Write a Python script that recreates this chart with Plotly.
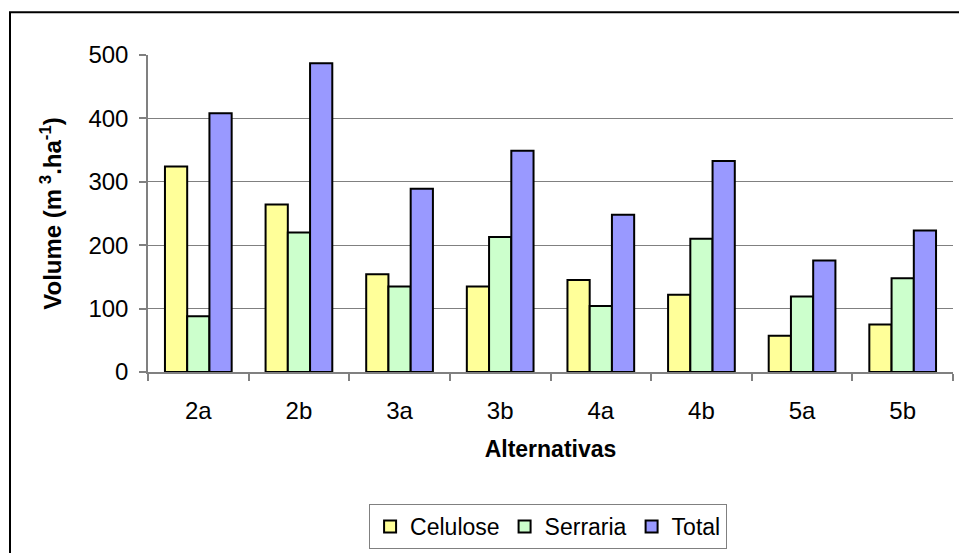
import plotly.graph_objects as go

categories = ["2a", "2b", "3a", "3b", "4a", "4b", "5a", "5b"]
celulose = [324, 264, 154, 135, 145, 122, 57, 75]
serraria = [88, 220, 135, 213, 104, 210, 119, 148]
total = [408, 487, 289, 349, 248, 333, 176, 223]
y_ticks = [0, 100, 200, 300, 400, 500]

FONT = "Liberation Sans, Arial, sans-serif"

fig = go.Figure()
for name, vals, color in [("Celulose", celulose, "#FFFF99"),
                          ("Serraria", serraria, "#CCFFCC"),
                          ("Total", total, "#9999FF")]:
    fig.add_trace(go.Bar(x=categories, y=vals, name=name,
                         marker=dict(color=color, line=dict(color="black", width=2))))

W, H = 959, 553
L, T = 148, 55
R = W - 953
B = H - 373
pw, ph = W - L - R, H - T - B

def px_x(x):
    return (x - L) / pw

def px_y(y):
    return (H - B - y) / ph

fig.update_layout(
    width=W, height=H,
    margin=dict(l=L, r=R, t=T, b=B),
    paper_bgcolor="white", plot_bgcolor="white",
    font=dict(family=FONT, size=24, color="black"),
    barmode="group", bargap=0.337, bargroupgap=0,
    showlegend=True,
    legend=dict(orientation="h", x=0.497, xanchor="center", y=px_y(504), yanchor="top",
                bordercolor="#808080", borderwidth=1, bgcolor="white",
                font=dict(size=23), itemwidth=30, tracegroupgap=0),
    xaxis=dict(showline=True, linecolor="#808080", linewidth=1.5,
               ticks="outside", ticklen=7, tickcolor="#808080", tickwidth=1.5,
               tickson="boundaries", ticklabelstandoff=16,
               tickfont=dict(size=24),
               title=dict(text="<b>Alternativas</b>", font=dict(size=23), standoff=18)),
    yaxis=dict(range=[0, 500], tickvals=y_ticks, showline=True, linecolor="#808080", linewidth=1.5,
               ticks="outside", ticklen=7, tickcolor="#808080", tickwidth=1.5,
               showgrid=True, gridcolor="#808080", gridwidth=1.2, zeroline=False,
               ticklabelstandoff=6, tickfont=dict(size=24),
               title=dict(text="<b>Volume (m<sup> 3</sup>.ha<sup>-1</sup>)</b>", font=dict(size=24), standoff=20)),
)

fig.add_shape(type="rect", xref="paper", yref="paper",
              x0=px_x(10), x1=px_x(990), y0=px_y(600), y1=px_y(12),
              line=dict(color="black", width=2), fillcolor="rgba(0,0,0,0)", layer="above")

fig.write_html("out.html", config={"displayModeBar": False},
               post_script="document.body.style.margin='0';document.body.style.overflow='hidden';")
